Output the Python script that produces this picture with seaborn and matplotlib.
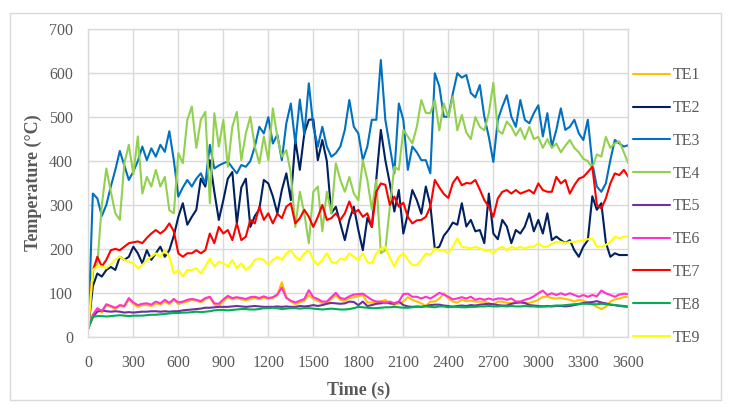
import numpy as np
import pandas as pd
import matplotlib
matplotlib.use("Agg")
import matplotlib.pyplot as plt
import seaborn as sns
from matplotlib.patches import Rectangle

# tiempo cada 30 s
time_s = list(range(0, 3601, 30))

te1 = [20, 45, 62, 55, 72, 68, 63, 70, 68, 85,
       75, 68, 72, 72, 70, 76, 73, 80, 74, 84,
       74, 78, 80, 84, 82, 78, 85, 90, 73, 70,
       80, 90, 85, 88, 85, 83, 86, 88, 85, 89,
       86, 88, 95, 124, 90, 80, 74, 78, 82, 95,
       86, 82, 76, 76, 86, 95, 84, 82, 88, 90,
       92, 95, 78, 78, 76, 80, 84, 76, 72, 76,
       80, 90, 84, 80, 76, 70, 80, 80, 87, 99,
       87, 80, 78, 84, 81, 82, 80, 80, 80, 76,
       73, 80, 80, 77, 76, 78, 80, 76, 77, 80,
       84, 91, 91, 88, 87, 88, 86, 84, 80, 84,
       82, 78, 74, 68, 63, 68, 80, 85, 87, 90,
       91]

te2 = [20, 115, 144, 137, 152, 159, 152, 182, 175, 182,
       205, 190, 167, 197, 175, 190, 205, 182, 197, 230,
       273, 304, 255, 273, 289, 360, 342, 402, 330, 266,
       311, 360, 375, 258, 340, 360, 250, 275, 290, 357,
       349, 320, 281, 334, 372, 311, 448, 380, 463, 494,
       495, 402, 448, 400, 281, 296, 258, 220, 266, 296,
       243, 197, 270, 250, 360, 471, 402, 349, 285, 334,
       235, 280, 334, 311, 280, 342, 300, 200, 205, 230,
       243, 260, 255, 304, 251, 266, 240, 243, 213, 326,
       235, 222, 266, 251, 213, 243, 235, 251, 281, 240,
       266, 235, 281, 220, 228, 220, 213, 220, 197, 182,
       205, 220, 320, 289, 304, 215, 182, 190, 186, 186,
       186]

te3 = [20, 326, 315, 275, 300, 342, 380, 423, 390, 357,
       376, 400, 433, 402, 429, 410, 437, 421, 468, 402,
       319, 340, 357, 342, 360, 372, 349, 437, 383, 390,
       395, 399, 385, 372, 391, 387, 400, 433, 478, 463,
       500, 440, 460, 402, 486, 531, 440, 540, 460, 577,
       478, 433, 478, 433, 410, 418, 433, 471, 539, 478,
       463, 402, 433, 494, 494, 630, 494, 433, 372, 531,
       494, 380, 433, 420, 402, 402, 372, 600, 570, 501,
       501, 554, 600, 590, 596, 555, 545, 573, 501, 455,
       398, 494, 524, 550, 501, 478, 539, 494, 486, 509,
       527, 456, 509, 433, 471, 520, 471, 478, 494, 463,
       448, 494, 395, 342, 330, 349, 402, 448, 440, 433,
       436]

te4 = [20, 150, 165, 300, 383, 330, 281, 266, 395, 437,
       370, 456, 326, 364, 342, 380, 342, 364, 288, 281,
       418, 395, 494, 524, 430, 494, 512, 304, 509, 433,
       494, 387, 478, 512, 402, 463, 501, 433, 395, 456,
       402, 520, 455, 410, 425, 372, 250, 330, 281, 213,
       330, 342, 240, 330, 281, 395, 357, 330, 364, 326,
       311, 402, 357, 290, 357, 190, 197, 296, 387, 380,
       471, 456, 440, 478, 539, 510, 509, 539, 470, 531,
       500, 547, 470, 505, 465, 450, 500, 478, 470, 509,
       578, 470, 462, 490, 478, 458, 475, 450, 478, 450,
       455, 430, 450, 430, 440, 420, 435, 448, 430, 420,
       405, 400, 385, 415, 410, 455, 430, 440, 445, 420,
       395]

te5 = [20, 45, 57, 60, 58, 57, 58, 57, 55, 56,
       55, 56, 57, 57, 58, 58, 57, 58, 57, 58,
       58, 60, 61, 62, 63, 64, 66, 66, 67, 68,
       68, 68, 69, 70, 69, 68, 69, 70, 69, 68,
       68, 68, 69, 68, 69, 68, 68, 70, 69, 70,
       72, 70, 72, 75, 77, 76, 75, 76, 80, 79,
       72, 80, 70, 72, 75, 76, 78, 76, 75, 80,
       72, 69, 68, 69, 68, 70, 72, 73, 73, 71,
       70, 68, 70, 71, 70, 72, 71, 73, 74, 75,
       74, 72, 71, 71, 75, 77, 78, 77, 72, 71,
       70, 69, 70, 69, 70, 70, 69, 70, 72, 74,
       77, 78, 79, 81, 78, 76, 73, 72, 70, 69,
       68]

te6 = [20, 50, 65, 58, 74, 70, 66, 72, 70, 88,
       78, 72, 75, 76, 73, 80, 76, 84, 77, 86,
       78, 80, 84, 86, 84, 81, 88, 91, 76, 75,
       85, 93, 88, 90, 88, 86, 90, 91, 88, 92,
       88, 90, 96, 112, 88, 82, 78, 82, 86, 106,
       90, 86, 80, 80, 90, 100, 88, 86, 92, 96,
       97, 98, 91, 84, 80, 80, 76, 80, 76, 80,
       97, 98, 91, 91, 87, 91, 87, 93, 100, 96,
       91, 85, 87, 90, 87, 91, 84, 87, 84, 87,
       84, 87, 87, 84, 87, 80, 80, 84, 87, 92,
       99, 105, 95, 99, 95, 99, 95, 99, 95, 91,
       95, 91, 95, 92, 105, 99, 95, 91, 96, 98,
       97]

te7 = [20, 150, 182, 160, 175, 197, 200, 197, 205, 213,
       215, 217, 213, 225, 235, 243, 235, 243, 258, 240,
       190, 182, 190, 190, 197, 190, 197, 235, 213, 250,
       235, 243, 220, 258, 220, 228, 266, 258, 296, 266,
       281, 258, 280, 270, 296, 304, 258, 270, 289, 273,
       250, 273, 300, 266, 270, 281, 266, 281, 308, 281,
       289, 273, 281, 250, 330, 349, 346, 300, 319, 296,
       305, 273, 258, 265, 266, 273, 296, 357, 340, 325,
       316, 350, 364, 345, 350, 349, 357, 335, 311, 296,
       273, 315, 330, 334, 326, 334, 326, 330, 334, 326,
       349, 334, 330, 330, 364, 349, 357, 326, 345, 360,
       364, 375, 387, 300, 292, 315, 349, 372, 368, 380,
       364]

te8 = [20, 45, 47, 47, 46, 47, 48, 49, 48, 47,
       48, 48, 48, 49, 50, 50, 51, 52, 53, 54,
       54, 55, 55, 56, 57, 56, 57, 58, 60, 61,
       61, 60, 61, 62, 63, 63, 62, 62, 63, 65,
       65, 66, 65, 63, 64, 65, 65, 64, 65, 65,
       64, 63, 62, 63, 64, 63, 62, 62, 63, 65,
       68, 67, 66, 65, 65, 66, 67, 67, 68, 67,
       66, 66, 67, 68, 68, 69, 68, 67, 69, 69,
       67, 69, 68, 67, 67, 68, 68, 69, 69, 70,
       69, 69, 70, 69, 70, 69, 69, 70, 69, 69,
       68, 69, 69, 70, 71, 71, 72, 73, 74, 75,
       75, 75, 74, 74, 75, 74, 73, 72, 71, 70,
       69]

te9 = [20, 152, 160, 160, 156, 165, 175, 182, 175, 171,
       167, 156, 163, 175, 182, 190, 182, 197, 182, 144,
       152, 137, 152, 152, 156, 144, 160, 178, 160, 171,
       167, 160, 175, 156, 167, 152, 160, 175, 178, 175,
       163, 175, 182, 175, 190, 197, 182, 175, 190, 197,
       175, 163, 175, 190, 171, 167, 178, 175, 190, 182,
       175, 190, 170, 167, 190, 200, 205, 180, 160, 182,
       190, 175, 163, 163, 175, 190, 186, 201, 197, 197,
       190, 205, 224, 205, 203, 201, 205, 201, 197, 197,
       190, 200, 205, 197, 205, 201, 205, 201, 205, 205,
       213, 205, 205, 212, 216, 216, 213, 216, 216, 218,
       220, 222, 224, 205, 205, 209, 216, 228, 224, 228,
       228]

sensores = ['TE1', 'TE2', 'TE3', 'TE4', 'TE5', 'TE6', 'TE7', 'TE8', 'TE9']
series = [te1, te2, te3, te4, te5, te6, te7, te8, te9]
colores = ['#FFC000', '#002060', '#0070C0', '#92D050', '#7030A0',
           '#FF33CC', '#FF0000', '#00B050', '#FFFF00']

# tabla larga para seaborn
df = pd.concat([pd.DataFrame({'time': time_s, 'temp': s, 'sensor': n})
                for n, s in zip(sensores, series)], ignore_index=True)

sns.set_style('white')
plt.rcParams['font.family'] = ['Liberation Serif', 'DejaVu Serif']

gris = '#595959'
fig = plt.figure(figsize=(7.33, 4.13), dpi=100)
ax = fig.add_axes([0.1205, 0.1847, 0.7367, 0.7443])

sns.lineplot(data=df, x='time', y='temp', hue='sensor', hue_order=sensores,
             palette=dict(zip(sensores, colores)), linewidth=1.5,
             estimator=None, legend=False, ax=ax)

ax.set_xlim(0, 3600)
ax.set_ylim(0, 700)
ax.set_xticks(range(0, 3601, 300))
ax.set_yticks(range(0, 701, 100))
ax.grid(True, color='#D9D9D9', linewidth=1)
ax.set_axisbelow(True)
for sp in ax.spines.values():
    sp.set_color('#D9D9D9')
    sp.set_linewidth(1)
ax.tick_params(length=0, labelsize=11.5, labelcolor=gris)
ax.tick_params(axis='x', pad=13)
ax.tick_params(axis='y', pad=11)

ax.set_xlabel('Time (s)', fontsize=13, fontweight='bold', color=gris)
ax.set_ylabel('Temperature (°C)', fontsize=13, fontweight='bold', color=gris)
ax.xaxis.set_label_coords(0.5, -0.145)
ax.yaxis.set_label_coords(-0.085, 0.5)

handles = ax.get_lines()[:len(sensores)]
fig.legend(handles, sensores, loc='center left', bbox_to_anchor=(633 / 733, 0.5),
           frameon=False, borderpad=0, borderaxespad=0, fontsize=11.5,
           labelcolor=gris, handlelength=2.3, handletextpad=0.2, labelspacing=1.05)

# marco exterior gris
fig.patches.append(Rectangle((9.5 / 733, 13 / 413), 711.5 / 733, 387 / 413,
                             transform=fig.transFigure, fill=False,
                             edgecolor='#D9D9D9', linewidth=1))

fig.savefig('out.png', dpi=100)
